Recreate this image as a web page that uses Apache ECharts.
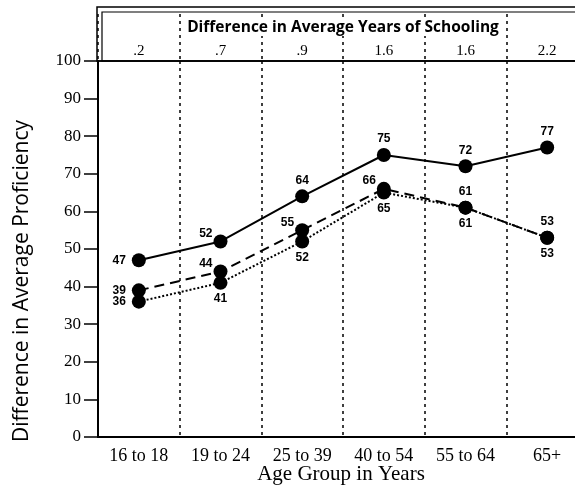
<!DOCTYPE html>
<html>
<head>
<meta charset="utf-8">
<script src="https://cdn.jsdelivr.net/npm/echarts@6/dist/echarts.min.js"></script>
<style>
  html, body { margin: 0; padding: 0; background: #fff; }
  #chart { width: 575px; height: 487px; }
</style>
</head>
<body>
<div id="chart"></div>
<script>
// Age groups along the bottom axis
const ageGroups = ['16 to 18', '19 to 24', '25 to 39', '40 to 54', '55 to 64', '65+'];
// Difference in average years of schooling, one per age group
const schoolingDiff = ['.2', '.7', '.9', '1.6', '1.6', '2.2'];
// Difference in average proficiency, three comparisons
const solidValues = [47, 52, 64, 75, 72, 77];
const dashedValues = [39, 44, 55, 66, 61, 53];
const dottedValues = [36, 41, 52, 65, 61, 53];
// Y axis ticks
const yMin = 0, yMax = 100, yStep = 10;

// Where each point's value label sits around its marker
const solidLabelSide = ['left', 'upleft', 'top', 'top', 'top', 'top'];
const dashedLabelSide = ['left', 'upleft', 'upleft', 'upleft', 'top', 'top'];
const dottedLabelSide = ['left', 'bottom', 'bottom', 'bottom', 'bottom', 'bottom'];

const SERIF = '"Liberation Serif", "Times New Roman", serif';
const LABEL_FONT = '"Liberation Sans Narrow", "Liberation Sans", sans-serif';

function labelFor(side, v) {
  const base = { show: true, color: '#000', fontFamily: LABEL_FONT, fontWeight: 'bold', fontSize: 12, formatter: String(v) };
  if (side === 'left') return Object.assign(base, { position: 'left', distance: 6 });
  if (side === 'upleft') return Object.assign(base, { position: 'left', distance: 1, offset: [0, -8] });
  if (side === 'top') return Object.assign(base, { position: 'top', distance: 3 });
  return Object.assign(base, { position: 'bottom', distance: 3 });
}

function seriesData(values, sides) {
  return values.map((v, i) => ({ value: v, label: labelFor(sides[i], v) }));
}

const chart = echarts.init(document.getElementById('chart'), null, { renderer: 'canvas' });

const lineCommon = {
  type: 'line',
  xAxisIndex: 0,
  yAxisIndex: 0,
  symbol: 'circle',
  symbolSize: 14,
  itemStyle: { color: '#000' },
  animation: false
};

chart.setOption({
  backgroundColor: '#fff',
  animation: false,
  grid: [
    { left: 98, top: 61, width: 490, height: 376, outerBoundsMode: 'none', containLabel: false,
      show: true, borderColor: '#000', borderWidth: 1.5, backgroundColor: 'transparent' },
    { left: 98, top: 14, width: 490, height: 47, outerBoundsMode: 'none', containLabel: false }
  ],
  xAxis: [
    {
      type: 'category', gridIndex: 0, data: ageGroups, boundaryGap: true,
      axisLine: { lineStyle: { color: '#000', width: 2 } },
      axisTick: { show: false },
      axisLabel: { interval: 0, color: '#000', fontFamily: SERIF, fontSize: 18, margin: 10 },
      splitLine: { show: true, interval: 0, lineStyle: { color: '#000', width: 1.5, type: [3, 4] } }
    },
    {
      type: 'category', gridIndex: 1, data: schoolingDiff, boundaryGap: true,
      axisLine: { show: false }, axisTick: { show: false },
      axisLabel: { inside: true, interval: 0, color: '#000', fontFamily: SERIF, fontSize: 15, margin: 2 },
      splitLine: { show: true, interval: 0, lineStyle: { color: '#000', width: 1.5, type: [3, 4] } }
    }
  ],
  yAxis: [
    {
      type: 'value', gridIndex: 0, min: yMin, max: yMax, interval: yStep,
      axisLine: { show: true, lineStyle: { color: '#000', width: 2 } },
      axisTick: { show: true, length: 14, lineStyle: { color: '#000', width: 1.5 } },
      axisLabel: { color: '#000', fontFamily: SERIF, fontSize: 17, margin: 17 },
      splitLine: { show: false }
    },
    { type: 'value', gridIndex: 1, min: 0, max: 1, show: false }
  ],
  series: [
    Object.assign({}, lineCommon, {
      name: 'solid', data: seriesData(solidValues, solidLabelSide),
      lineStyle: { color: '#000', width: 2, type: 'solid' }
    }),
    Object.assign({}, lineCommon, {
      name: 'dashed', data: seriesData(dashedValues, dashedLabelSide),
      lineStyle: { color: '#000', width: 2, type: [10, 6] }
    }),
    Object.assign({}, lineCommon, {
      name: 'dotted', data: seriesData(dottedValues, dottedLabelSide),
      lineStyle: { color: '#000', width: 2, type: [2, 2] }
    })
  ],
  graphic: [
    { type: 'rect', z: 50, shape: { x: 97, y: 7, width: 600, height: 54 }, style: { fill: 'none', stroke: '#000', lineWidth: 1.5 } },
    { type: 'rect', z: 50, shape: { x: 102, y: 12, width: 600, height: 49 }, style: { fill: 'none', stroke: '#000', lineWidth: 1.2 } },
    {
      type: 'text', z: 60, x: 343, y: 28,
      style: {
        text: 'Difference in Average Years of Schooling', fill: '#000',
        font: 'bold 15.5px "Open Sans", sans-serif', align: 'center', verticalAlign: 'middle',
        backgroundColor: '#fff', padding: [0, 2]
      }
    },
    {
      type: 'text', z: 60, x: 22, y: 281, rotation: Math.PI / 2,
      style: {
        text: 'Difference in Average Proficiency', fill: '#000',
        font: '21px "Open Sans", sans-serif', align: 'center', verticalAlign: 'middle'
      }
    },
    {
      type: 'text', z: 60, x: 341, y: 474,
      style: {
        text: 'Age Group in Years', fill: '#000',
        font: '21px "Liberation Serif", serif', align: 'center', verticalAlign: 'middle'
      }
    }
  ]
});
</script>
</body>
</html>
